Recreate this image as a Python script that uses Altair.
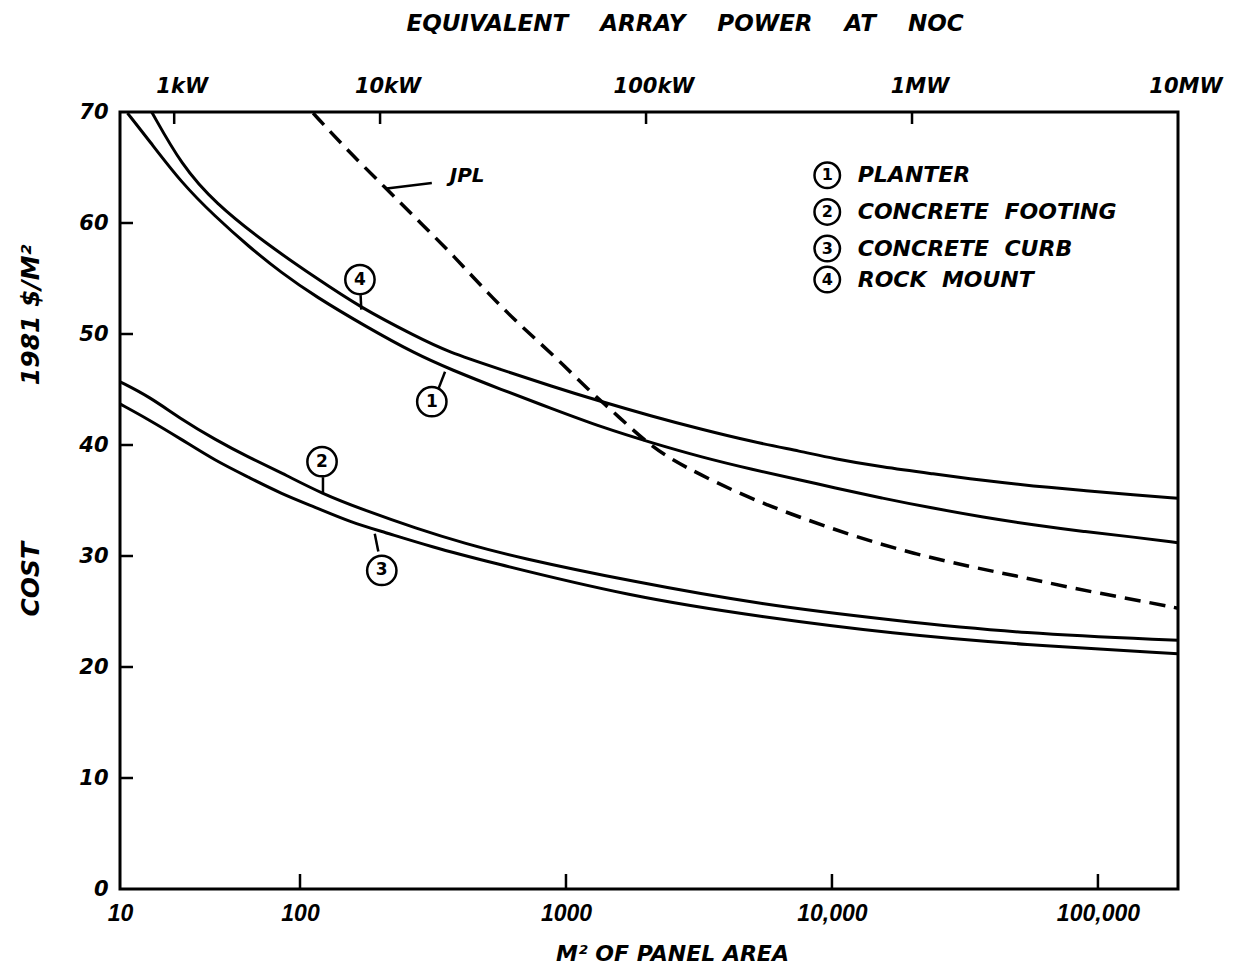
import altair as alt
import pandas as pd

# ---- data (m^2 of panel area, 1981 $/m^2) ----
planter_area = [11, 14.4, 22, 33.7, 51.7, 79, 114, 176, 272, 369, 570, 880, 1360, 2100,
                3240, 5010, 7740, 10000, 15500, 24000, 37000, 57200, 88400, 137000, 200000]
planter_cost = [69.9, 67.5, 63.6, 60.6, 57.9, 55.5, 53.4, 50.7, 48.2, 46.8, 45.0, 43.3, 41.6, 40.2,
                38.9, 37.8, 36.8, 36.2, 35.2, 34.3, 33.5, 32.8, 32.2, 31.7, 31.2]

rock_area = [15, 22, 33.7, 64, 114, 171, 272, 358, 570, 880, 1360, 2100, 3240, 5010, 7740,
             10000, 15500, 24000, 37000, 57200, 88400, 137000, 200000]
rock_cost = [70.0, 65.2, 61.8, 58.2, 55.1, 52.3, 49.8, 48.4, 46.8, 45.3, 43.9, 42.6, 41.4, 40.3, 39.4,
             38.8, 38.0, 37.4, 36.8, 36.3, 35.9, 35.5, 35.2]

footing_area = [10, 14.4, 22, 33.7, 51.7, 79, 121, 176, 272, 420, 649, 1770, 5470, 16900, 52400, 200000]
footing_cost = [45.7, 44.4, 42.3, 40.5, 38.9, 37.5, 35.6, 34.1, 32.5, 31.1, 29.9, 27.7, 25.6, 24.2, 23.0, 22.4]

curb_area = [10, 14.4, 22, 33.7, 51.7, 79, 114, 157, 204, 315, 486, 1770, 5470, 16900, 52400, 200000]
curb_cost = [43.7, 42.3, 40.5, 38.6, 37.1, 35.6, 34.4, 33.0, 32.2, 30.8, 29.6, 26.3, 24.5, 23.0, 22.0, 21.2]

jpl_area = [112, 150, 213, 284, 380, 507, 678, 906, 1210, 1570, 2100, 2800, 4330, 5710, 7540,
            12400, 20300, 33600, 51900, 80200, 128000, 200000]
jpl_cost = [69.9, 66.6, 63.0, 60.0, 57.0, 53.7, 50.7, 48.0, 45.0, 42.6, 39.8, 38.0, 35.8, 34.6, 33.5,
            31.7, 30.2, 29.0, 28.1, 27.1, 26.2, 25.3]

# axis ticks / labels
area_ticks = [10, 100, 1000, 10000, 100000]
area_labels = ["10", "100", "1000", "10,000", "100,000"]
cost_ticks = [0, 10, 20, 30, 40, 50, 60, 70]
power_area = [20, 200, 2000, 20000, 200000]       # equivalent array power at NOC (~20 m^2 per kW)
power_labels = ["1kW", "10kW", "100kW", "1MW", "10MW"]

# legend
legend_nums = ["1", "2", "3", "4"]
legend_names = ["PLANTER", "CONCRETE\u00a0\u00a0FOOTING", "CONCRETE\u00a0\u00a0CURB", "ROCK\u00a0\u00a0MOUNT"]

# ---- annotation anchors (data units) ----
legend_circle_area = [9600, 9600, 9600, 9600]
legend_text_area = [12500, 12500, 12500, 12500]
legend_cost = [64.3, 61.0, 57.7, 54.9]

callout_nums = ["4", "1", "2", "3"]
callout_area = [168, 313, 121, 203]
callout_cost = [54.9, 43.9, 38.5, 28.7]
leader_area = [169, 332, 122, 197, 212]
leader_cost = [53.5, 45.1, 37.1, 30.4, 63.1]
leader_area2 = [170, 351, 122, 191, 313]
leader_cost2 = [52.2, 46.6, 35.6, 32.0, 63.6]
jpl_label_area = [425]
jpl_label_cost = [64.2]

FONT = "DejaVu Sans"
NUMFONT = "Liberation Sans"
W, H = 1058, 777
SP = "\u00a0"

def series(name, a, c):
    return pd.DataFrame({"area": a, "cost": c, "series": name})

solid = pd.concat([
    series("1 Planter", planter_area, planter_cost),
    series("2 Concrete footing", footing_area, footing_cost),
    series("3 Concrete curb", curb_area, curb_cost),
    series("4 Rock mount", rock_area, rock_cost),
])
jpl = series("JPL", jpl_area, jpl_cost)

xscale = alt.Scale(type="log", domain=[10, 100, 200000], range=[0, 180, W])
yscale = alt.Scale(domain=[0, 70], nice=False, zero=True)

lab_expr = "[" + ",".join(f"'{s}'" for s in area_labels) + "][indexof([" + \
    ",".join(str(v) for v in area_ticks) + "], datum.value)]"

xaxis = alt.Axis(values=area_ticks, labelExpr=lab_expr, ticks=False, tickSize=0, domain=False,
                 grid=False, labelPadding=13, labelFont=NUMFONT, labelFontSize=23,
                 labelFontWeight="bold", labelFontStyle="italic", labelColor="black",
                 labelFlush=False, labelOverlap=False,
                 title="M² OF PANEL AREA", titleFont=FONT, titleFontSize=22,
                 titleFontWeight="bold", titleFontStyle="italic", titleColor="black",
                 titleX=552, titleY=64, titleBaseline="middle", titleAlign="center")
yaxis = alt.Axis(values=cost_ticks, ticks=False, tickSize=0, domain=False, grid=False,
                 labelPadding=12, labelFont=FONT, labelFontSize=21, labelFontWeight="bold",
                 labelFontStyle="italic", labelColor="black",
                 title="COST" + SP * 18 + "1981 $/M²", titleFont=FONT, titleFontSize=25,
                 titleFontWeight="bold", titleFontStyle="italic", titleColor="black",
                 titleAngle=270, titleX=-90, titleY=318, titleBaseline="middle", titleAlign="center")

X = alt.X("area:Q", scale=xscale, axis=xaxis)
Y = alt.Y("cost:Q", scale=yscale, axis=yaxis)
X2 = alt.X2("area2:Q")
Y2 = alt.Y2("cost2:Q")

lines = alt.Chart(solid).mark_line(color="black", strokeWidth=3, interpolate="basis", clip=True).encode(
    x=X, y=Y, detail="series:N")
dashed = alt.Chart(jpl).mark_line(color="black", strokeWidth=3.5, strokeDash=[16, 9],
                                  interpolate="basis", clip=True).encode(x=X, y=Y)

# inward ticks
bt = pd.DataFrame({"area": area_ticks[1:]})
bottom_ticks = alt.Chart(bt).mark_rule(color="black", strokeWidth=2.5).encode(
    x=X, y=alt.value(H), y2=alt.value(H - 15))
tt = pd.DataFrame({"area": power_area[:-1]})
top_ticks = alt.Chart(tt).mark_rule(color="black", strokeWidth=2.5).encode(
    x=X, y=alt.value(0), y2=alt.value(12))
lt = pd.DataFrame({"cost": cost_ticks[1:-1]})
left_ticks = alt.Chart(lt).mark_rule(color="black", strokeWidth=2.5).encode(
    y=Y, x=alt.value(0), x2=alt.value(13))

# top power labels
pw = pd.DataFrame({"area": power_area, "label": power_labels})
power_text = alt.Chart(pw).mark_text(font=FONT, fontSize=21, fontWeight="bold", fontStyle="italic",
                                     color="black", baseline="middle", align="center", dx=8).encode(
    x=X, y=alt.value(-25), text="label:N")

# legend
lg = pd.DataFrame({"area": legend_circle_area, "cost": legend_cost, "num": legend_nums,
                   "tarea": legend_text_area, "name": legend_names})
leg_circ = alt.Chart(lg).mark_point(shape="circle", filled=False, size=650, strokeWidth=2.5,
                                    color="black", opacity=1).encode(x=X, y=Y)
leg_num = alt.Chart(lg).mark_text(font=FONT, fontSize=16, fontWeight="bold", color="black",
                                  baseline="middle", align="center").encode(x=X, y=Y, text="num:N")
leg_txt = alt.Chart(lg).mark_text(font=FONT, fontSize=22, fontWeight="bold", fontStyle="italic",
                                  color="black", baseline="middle", align="left").encode(
    x=alt.X("tarea:Q", scale=xscale, axis=xaxis), y=Y, text="name:N")

# callouts
co = pd.DataFrame({"area": callout_area, "cost": callout_cost, "num": callout_nums})
co_circ = alt.Chart(co).mark_point(shape="circle", filled=False, size=860, strokeWidth=2.5,
                                   color="black", opacity=1).encode(x=X, y=Y)
co_num = alt.Chart(co).mark_text(font=FONT, fontSize=17, fontWeight="bold", color="black",
                                 baseline="middle", align="center").encode(x=X, y=Y, text="num:N")
ld = pd.DataFrame({"area": leader_area, "cost": leader_cost, "area2": leader_area2, "cost2": leader_cost2})
leaders = alt.Chart(ld).mark_rule(color="black", strokeWidth=2.5).encode(x=X, y=Y, x2=X2, y2=Y2)
jl = pd.DataFrame({"area": jpl_label_area, "cost": jpl_label_cost, "t": ["JPL"]})
jpl_txt = alt.Chart(jl).mark_text(font=FONT, fontSize=20, fontWeight="bold", fontStyle="italic",
                                  color="black", baseline="middle", align="center").encode(
    x=X, y=Y, text="t:N")

chart = alt.layer(
    lines, dashed, bottom_ticks, top_ticks, left_ticks, power_text,
    leg_circ, leg_num, leg_txt, co_circ, co_num, leaders, jpl_txt
).properties(
    width=W, height=H,
    background="white",
    autosize=alt.AutoSizeParams(type="none"),
    padding={"left": 112, "top": 104, "right": 60, "bottom": 80},
    title=alt.TitleParams(
        text=(SP * 4).join(["EQUIVALENT", "ARRAY", "POWER", "AT", "NOC"]),
        font=FONT, fontSize=23, fontWeight="bold", fontStyle="italic", color="black",
        anchor="middle", frame="group", dx=36, offset=40),
).configure_view(stroke="black", strokeWidth=3)

chart.save("out.html", embed_options={"renderer": "svg", "actions": False})
